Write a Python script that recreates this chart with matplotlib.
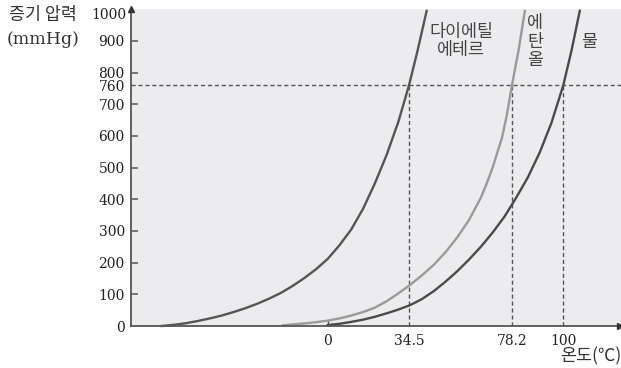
import matplotlib
matplotlib.use("Agg")
import matplotlib.pyplot as plt

# ---- data ----
ether_T = [-70.5, -65, -60, -55, -50, -45, -40, -35, -30, -25, -20, -15, -10, -5,
           0, 5, 10, 15, 20, 25, 30, 34.5, 38, 42]
ether_P = [0, 4, 9, 16, 24, 33, 44, 56, 70, 86, 104, 126, 151, 179,
           212, 255, 305, 370, 450, 540, 645, 760, 865, 995]

ethanol_T = [-19, -15, -10, -5, 0, 5, 10, 15, 20, 25, 30, 35, 40, 45, 50, 55,
             60, 65, 67.5, 70, 72, 74, 76, 78.2, 81, 83.7]
ethanol_P = [2, 5, 8, 12, 17, 24, 33, 44, 58, 78, 103, 130, 160, 193, 233, 280,
             335, 405, 450, 500, 548, 595, 665, 760, 870, 995]

water_T = [0, 5, 10, 15, 20, 25, 30, 35, 40, 45, 50, 55, 60, 65, 70, 75, 80, 85,
           90, 95, 100, 103.5, 107]
water_P = [3, 7, 13, 20, 29, 40, 52, 66, 85, 110, 140, 173, 210, 250, 295, 345,
           405, 470, 548, 642, 760, 870, 995]

boil_T = [34.5, 78.2, 100]
boil_labels = ["34.5", "78.2", "100"]
atm = 760
y_ticks = [0, 100, 200, 300, 400, 500, 600, 700, 760, 800, 900]
y_labels = [str(v) for v in y_ticks]

W, H = 621, 368
fig = plt.figure(figsize=(W / 100, H / 100), dpi=100)
fig.patch.set_facecolor("white")
ax = fig.add_axes([131 / W, 42 / H, 490 / W, 317 / H])
ax.set_facecolor("#ECECEE")
ax.set_xlim(-83.5, 124.5)
ax.set_ylim(0, 1001)

dark = "#555555"
light = "#9a9a9a"
for s in ["top", "right"]:
    ax.spines[s].set_visible(False)
for s in ["left", "bottom"]:
    ax.spines[s].set_color(dark)
    ax.spines[s].set_linewidth(1.3)
    ax.spines[s].set_zorder(5)

# arrows
ax.plot([0], [1], marker="^", color="#333333", markersize=5, transform=ax.transAxes, clip_on=False, zorder=6)
ax.plot([0.998], [0], marker=">", color="#333333", markersize=5, transform=ax.transAxes, clip_on=False, zorder=6)

# curves
ax.plot(ether_T, ether_P, color=dark, lw=1.7, clip_on=False, zorder=3, solid_joinstyle="round")
ax.plot(ethanol_T, ethanol_P, color=light, lw=1.7, clip_on=False, zorder=3, solid_joinstyle="round")
ax.plot(water_T, water_P, color="#4a4a4a", lw=1.7, clip_on=False, zorder=3, solid_joinstyle="round")

# dashed guide lines
dash = (0, (3, 2))
ax.axhline(atm, color=dark, lw=1.0, ls=dash, zorder=2)
for t in boil_T:
    ax.plot([t, t], [0, atm], color=dark, lw=1.0, ls=dash, zorder=2)

# ticks
serif = "DejaVu Serif"
ax.set_yticks(y_ticks)
ax.set_yticklabels(y_labels, fontfamily=serif, fontsize=10, color="#222222")
ax.tick_params(axis="y", direction="in", length=5, width=1.1, color=dark, pad=4.5)
for v, tk in zip(y_ticks, ax.yaxis.get_major_ticks()):
    if v in (0, 760):
        tk.tick1line.set_visible(False)

ax.set_xticks([0] + boil_T)
ax.set_xticklabels(["0"] + boil_labels, fontfamily=serif, fontsize=10, color="#222222")
ax.tick_params(axis="x", direction="in", length=4.5, width=1.0, color=dark, pad=6)
for i, tk in enumerate(ax.xaxis.get_major_ticks()):
    if i > 0:
        tk.tick1line.set_visible(False)

# 1000 label
ax.text(-85.5, 982, "1000", ha="right", va="center", fontfamily=serif, fontsize=10,
        color="#222222", transform=ax.transData, clip_on=False)

kr = ["Noto Sans CJK KR", "DejaVu Sans"]
def px(x, y):
    return x / W, 1 - y / H

fig.text(*px(9, 15), "증기 압력", family=kr, fontsize=12.5, color="#333333", ha="left", va="center")
fig.text(*px(7, 39), "(mmHg)", family=serif, fontsize=12.5, color="#333333", ha="left", va="center")
fig.text(*px(621, 356), "온도(℃)", family=kr, fontsize=12.5, color="#333333", ha="right", va="center")

fig.text(*px(461, 32), "다이에틸", family=kr, fontsize=12.5, color="#444444", ha="center", va="center")
fig.text(*px(461, 50), "에테르", family=kr, fontsize=12.5, color="#444444", ha="center", va="center")
for ch, y in zip("에탄올", [23, 42, 60]):
    fig.text(*px(535, y), ch, family=kr, fontsize=12.5, color="#444444", ha="center", va="center")
fig.text(*px(589, 42), "물", family=kr, fontsize=12.5, color="#444444", ha="center", va="center")

fig.savefig("out.png", dpi=100)
